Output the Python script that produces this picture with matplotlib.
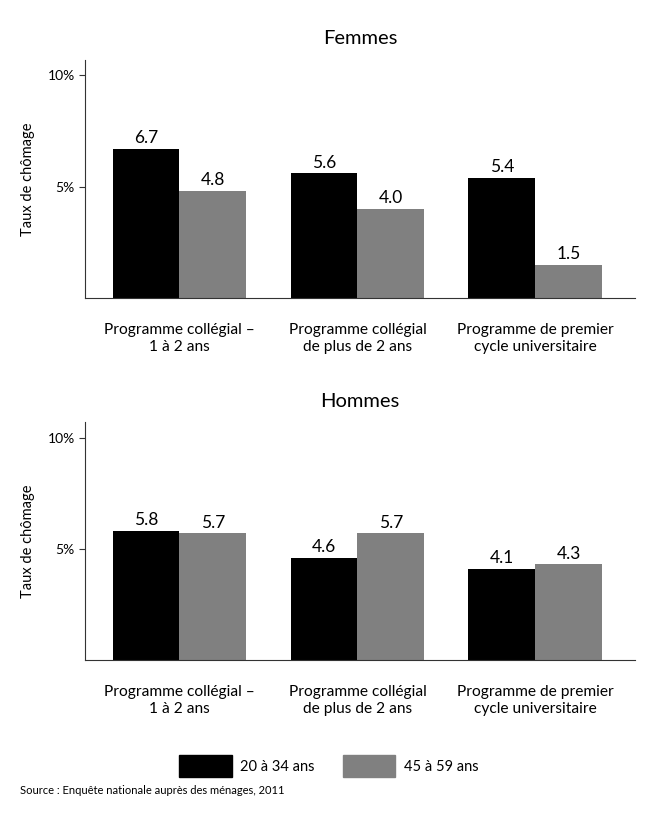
import matplotlib.pyplot as plt
import matplotlib.patches as mpatches
import numpy as np

programmes = ["Programme collégial –\n1 à 2 ans",
              "Programme collégial\nde plus de 2 ans",
              "Programme de premier\ncycle universitaire"]
groupes = ["20 à 34 ans", "45 à 59 ans"]
femmes_jeunes = [6.7, 5.6, 5.4]
femmes_agees = [4.8, 4.0, 1.5]
hommes_jeunes = [5.8, 4.6, 4.1]
hommes_ages = [5.7, 5.7, 4.3]
y_ticks = [5, 10]
y_tick_labels = ["5%", "10%"]

plt.rcParams["font.family"] = ["Lato", "DejaVu Sans"]
colors = ["#000000", "#808080"]
width = 0.376


def draw_panel(ax, title, young, old):
    x = np.arange(len(programmes))
    for i, (vals, col) in enumerate([(young, colors[0]), (old, colors[1])]):
        pos = x - width / 2 + i * width
        bars = ax.bar(pos, vals, width=width, color=col, edgecolor="none")
        for b, v in zip(bars, vals):
            ax.text(b.get_x() + b.get_width() / 2, v + 0.12, f"{v:.1f}",
                    ha="center", va="bottom", fontsize=12.5)
    ax.set_xlim(-0.53, 2.56)
    ax.set_ylim(0, 10.7)
    ax.set_yticks(y_ticks)
    ax.set_yticklabels(y_tick_labels, fontsize=10)
    ax.set_xticks(x)
    ax.set_xticklabels(programmes, fontsize=11.2, linespacing=1.3)
    ax.tick_params(axis="x", length=0, pad=18)
    ax.tick_params(axis="y", length=4, color="#333333")
    for s in ["top", "right"]:
        ax.spines[s].set_visible(False)
    for s in ["left", "bottom"]:
        ax.spines[s].set_color("#333333")
    ax.set_title(title, fontsize=14.5, pad=11)
    ax.set_ylabel("Taux de chômage", fontsize=10.5, labelpad=9)


fig = plt.figure(figsize=(6.5, 8.13), dpi=100)
ax1 = fig.add_axes([0.131, 0.6335, 0.846, 0.293])
ax2 = fig.add_axes([0.131, 0.188, 0.846, 0.293])
draw_panel(ax1, "Femmes", femmes_jeunes, femmes_agees)
draw_panel(ax2, "Hommes", hommes_jeunes, hommes_ages)

handles = [mpatches.Patch(color=c, label=g) for c, g in zip(colors, groupes)]
fig.legend(handles=handles, loc="center", bbox_to_anchor=(0.506, 0.058), ncol=2,
           frameon=False, fontsize=10.5, handlelength=3.6, handleheight=1.9,
           handletextpad=0.6, columnspacing=1.9)

fig.text(0.031, 0.028, "Source : Enquête nationale auprès des ménages, 2011",
         fontsize=8, ha="left", va="center")

fig.savefig("out.png", dpi=100)
